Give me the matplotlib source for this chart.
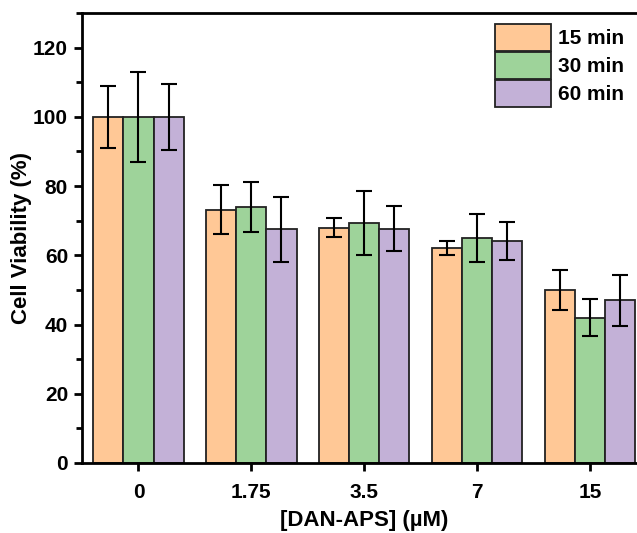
import numpy as np
import matplotlib.pyplot as plt
from matplotlib.ticker import MultipleLocator

plt.rcParams['font.family'] = ['Liberation Sans', 'DejaVu Sans']
plt.rcParams['font.weight'] = 'bold'

# concentrations (x categories) and series
conc = ["0", "1.75", "3.5", "7", "15"]
labels = ["15 min", "30 min", "60 min"]

v15 = [100, 73.2, 68.0, 62.2, 50.0]
v30 = [100, 74.0, 69.3, 65.0, 42.0]
v60 = [100, 67.5, 67.7, 64.2, 47.0]

e15 = [9.0, 7.0, 2.8, 2.0, 5.8]
e30 = [13.0, 7.2, 9.2, 6.8, 5.4]
e60 = [9.5, 9.3, 6.4, 5.5, 7.3]

colors = ["#FFC896", "#9ED39A", "#C3B1D7"]

fig = plt.figure(figsize=(6.37, 5.33), dpi=100)
ax = fig.add_axes([82 / 637, 70 / 533, 564.5 / 637, 450 / 533])

x = np.arange(len(conc))
w = 0.267
for i, (vals, errs) in enumerate(zip([v15, v30, v60], [e15, e30, e60])):
    ax.bar(x + (i - 1) * w, vals, w, color=colors[i], edgecolor="#222222",
           linewidth=1.3, label=labels[i], zorder=2)
    ax.errorbar(x + (i - 1) * w, vals, yerr=errs, fmt="none", ecolor="black",
                elinewidth=1.5, capsize=6, capthick=1.5, zorder=3)

ax.set_xlim(-0.5, 4.5)
ax.set_ylim(0, 130)
ax.set_xticks(x)
ax.set_xticklabels(conc)
ax.set_yticks(np.arange(0, 121, 20))
ax.yaxis.set_minor_locator(MultipleLocator(10))

for s in ax.spines.values():
    s.set_linewidth(2)
ax.tick_params(axis="both", which="major", direction="out", length=6, width=2,
               labelsize=15, pad=4)
ax.tick_params(axis="x", which="major", pad=8.5)
ax.tick_params(axis="y", which="minor", direction="out", length=4, width=2)

ax.set_xlabel("[DAN-APS] (\u00b5M)", fontsize=16, fontweight="bold", labelpad=6)
ax.set_ylabel("Cell Viability (%)", fontsize=16, fontweight="bold", labelpad=1)

leg = ax.legend(loc="upper left", bbox_to_anchor=((495 - 82) / 564.5, (463 - 24) / 450),
                frameon=False, fontsize=15, handlelength=2.7, handleheight=1.62,
                labelspacing=0.05, handletextpad=0.33, borderpad=0, borderaxespad=0)
for t in leg.get_texts():
    t.set_fontweight("bold")

fig.savefig("out.png", dpi=100)
